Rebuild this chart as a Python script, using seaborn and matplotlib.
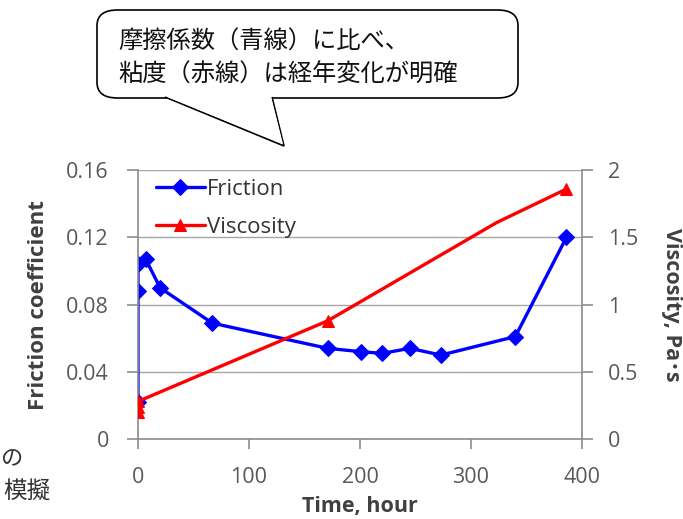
import pandas as pd
import matplotlib.pyplot as plt
import seaborn as sns
from matplotlib.patches import FancyBboxPatch, Polygon

# ---------------------------------------------------
# Data
# ---------------------------------------------------
friction_time = [0, 0, 0, 7, 20, 67, 171, 201, 220, 245, 273, 340, 386]
friction_coef = [0.022, 0.088, 0.104, 0.107, 0.090, 0.069, 0.054, 0.052,
                 0.051, 0.054, 0.050, 0.061, 0.120]

viscosity_time = [0, 0, 0, 171, 323, 386]
viscosity_vals = [0.20, 0.24, 0.28, 0.88, 1.61, 1.86]
viscosity_markers = [0, 1, 2, 3, 5]

df_f = pd.DataFrame({"time": friction_time, "friction": friction_coef})
df_v = pd.DataFrame({"time": viscosity_time, "viscosity": viscosity_vals})

sns.set_style("white")
plt.rcParams['font.family'] = ['Open Sans', 'Noto Sans CJK JP', 'DejaVu Sans']

grey = "#595959"
spine = "#8c8c8c"
jp = ['Noto Sans CJK JP', 'DejaVu Sans']

fig = plt.figure(figsize=(6.83, 5.19), dpi=100)
ax = fig.add_axes([0.202, 0.154, 0.650, 0.518])
ax2 = ax.twinx()

sns.lineplot(data=df_f, x="time", y="friction", ax=ax, sort=False, estimator=None,
             color="#0000ff", lw=2.4, marker="D", markersize=8, mec="#0000ff",
             label="Friction", legend=False)
sns.lineplot(data=df_v, x="time", y="viscosity", ax=ax2, sort=False, estimator=None,
             color="#ff0000", lw=2.4, marker="^", markersize=9, mec="#ff0000",
             markevery=viscosity_markers, label="Viscosity", legend=False)

ax.set_xlim(0, 400)
ax.set_ylim(0, 0.16)
ax2.set_ylim(0, 2)
ax.set_xticks([0, 100, 200, 300, 400])
ax.set_yticks([0, 0.04, 0.08, 0.12, 0.16])
ax.set_yticklabels(["0", "0.04", "0.08", "0.12", "0.16"])
ax2.set_yticks([0, 0.5, 1, 1.5, 2])
ax2.set_yticklabels(["0", "0.5", "1", "1.5", "2"])

ax.grid(axis="y", color="#a6a6a6", lw=1)
ax.set_axisbelow(True)
for a in (ax, ax2):
    for s in a.spines.values():
        s.set_visible(False)
ax.spines["left"].set_visible(True)
ax.spines["bottom"].set_visible(True)
ax2.spines["right"].set_visible(True)
for s in (ax.spines["left"], ax.spines["bottom"], ax2.spines["right"]):
    s.set_color(spine)
    s.set_linewidth(1.2)

ax.tick_params(axis="y", direction="out", length=8, width=1.2, color=spine,
               labelsize=15.5, labelcolor=grey, pad=13, left=True)
ax.tick_params(axis="x", direction="out", length=7, width=1.2, color=spine,
               labelsize=15.5, labelcolor=grey, pad=13, bottom=True)
ax2.tick_params(axis="y", direction="out", length=8, width=1.2, color=spine,
                labelsize=15.5, labelcolor=grey, pad=11, right=True)

ax.set_xlabel("Time, hour", fontsize=15.5, fontweight="bold", color="#404040", labelpad=6)
ax.set_ylabel("Friction coefficient", fontsize=16, fontweight="bold", color="#404040", labelpad=12)
ax2.set_ylabel("Viscosity, Pa･s", fontsize=15.5, fontweight="bold", color="#404040",
               rotation=270, labelpad=31)

h1, l1 = ax.get_legend_handles_labels()
h2, l2 = ax2.get_legend_handles_labels()
ax.legend(h1 + h2, l1 + l2, loc="upper left", frameon=False, fontsize=16,
          handlelength=2.2, handletextpad=0.1, borderaxespad=0.0,
          labelspacing=0.75, labelcolor="#333333", bbox_to_anchor=(0.02, 1.0))

# ---------------------------------------------------
# Speech bubble annotation
# ---------------------------------------------------
W, H = 683, 519
def fx(px): return px / W
def fy(py): return 1 - py / H

bubble = FancyBboxPatch((fx(97), fy(98)), fx(518) - fx(97), fy(10) - fy(98),
                        boxstyle="round,pad=0,rounding_size=0.03",
                        transform=fig.transFigure, fc="white", ec="black", lw=1.2)
fig.patches.append(bubble)
tail = Polygon([(fx(165), fy(97)), (fx(284), fy(146)), (fx(272), fy(97))],
               closed=False, transform=fig.transFigure, fc="white", ec="black", lw=1.2)
fig.patches.append(tail)
cover = Polygon([(fx(166), fy(96.5)), (fx(283), fy(144)), (fx(271), fy(96.5))],
                closed=True, transform=fig.transFigure, fc="white", ec="none")
fig.patches.append(cover)

fig.text(fx(118), fy(42), "摩擦係数（青線）に比べ、", fontsize=17.5, va="center", ha="left",
         family=jp, color="#111111")
fig.text(fx(118), fy(75), "粘度（赤線）は経年変化が明確", fontsize=17.5, va="center", ha="left",
         family=jp, color="#111111")

# partly hidden text at the bottom left
fig.text(fx(1), fy(459), "の", fontsize=16, va="center", ha="left",
         family=jp, color="#333333")
fig.text(fx(51), fy(491), "模擬", fontsize=17, va="center", ha="right",
         family=jp, color="#333333")

fig.savefig("out.png", dpi=100)
